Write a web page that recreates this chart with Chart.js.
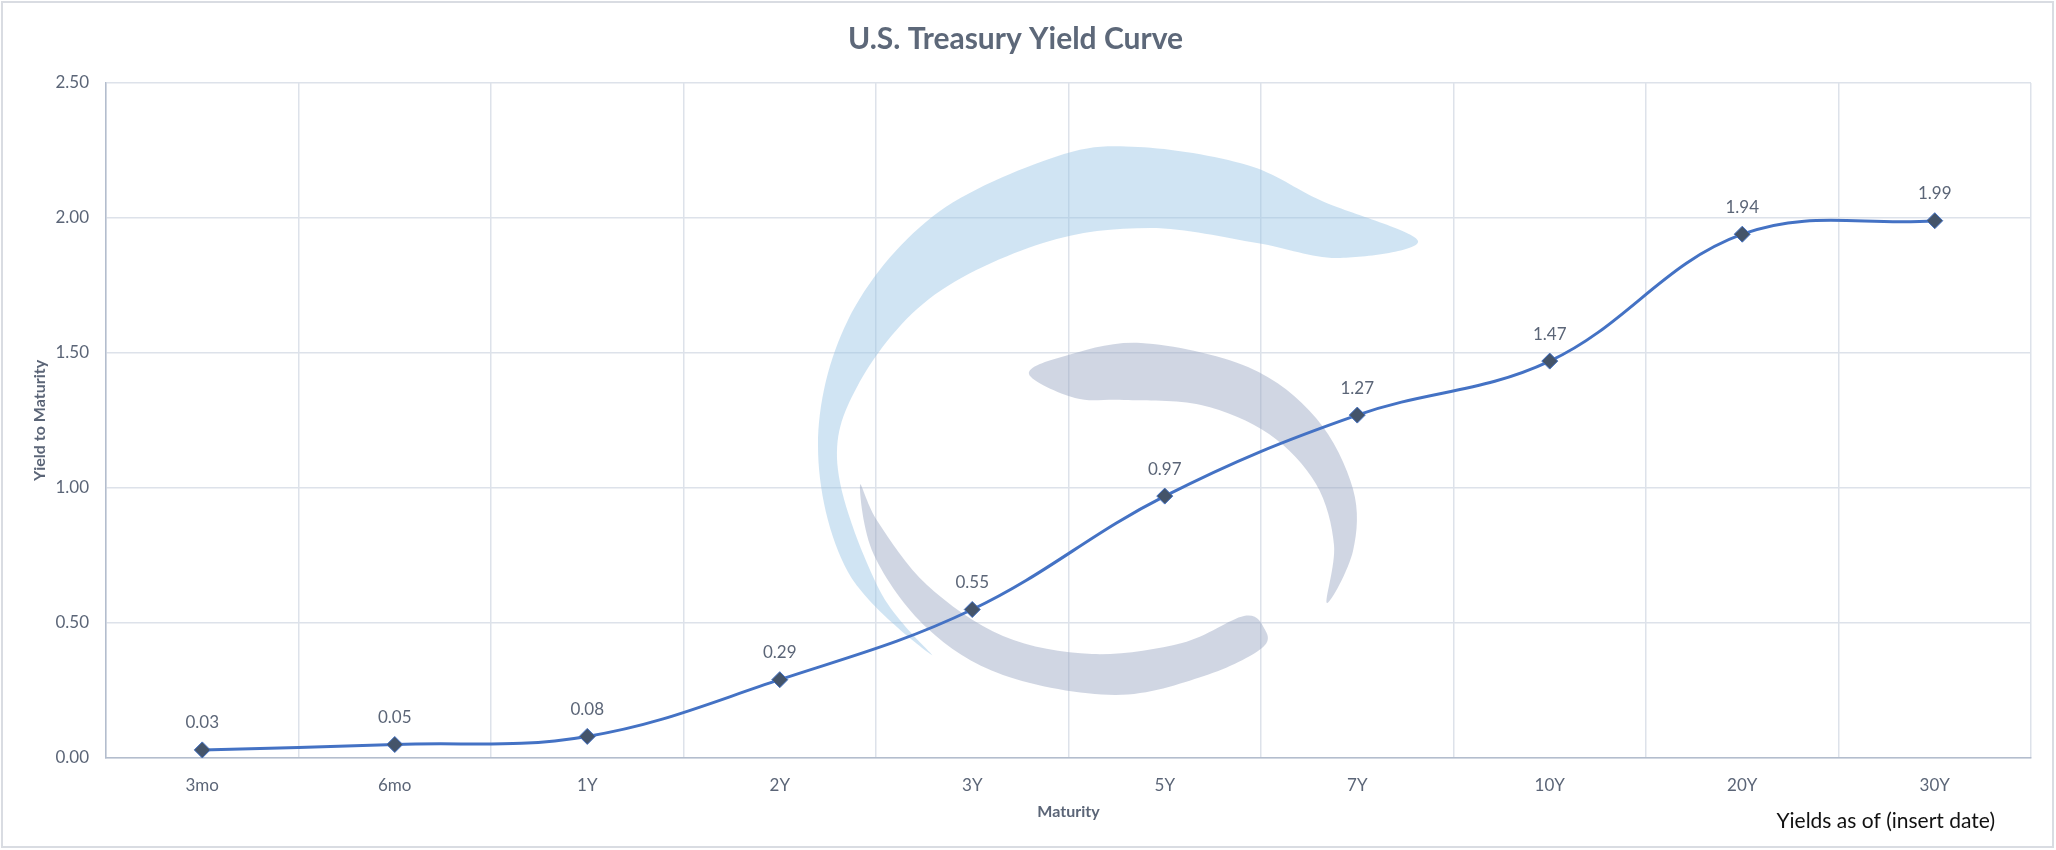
<!DOCTYPE html>
<html>
<head>
<meta charset="utf-8">
<title>U.S. Treasury Yield Curve</title>
<script src="https://cdn.jsdelivr.net/npm/chart.js@4.4.1/dist/chart.umd.min.js"></script>
<style>
    html, body { margin: 0; padding: 0; background: #fff; }
    #wrap { width: 2056px; height: 850px; position: relative; }
</style>
</head>
<body>
<div id="wrap"><canvas id="yieldChart"></canvas></div>
<script>
// Chart data
const maturities = ['3mo', '6mo', '1Y', '2Y', '3Y', '5Y', '7Y', '10Y', '20Y', '30Y'];
const yields = [0.03, 0.05, 0.08, 0.29, 0.55, 0.97, 1.27, 1.47, 1.94, 1.99];
const yTicks = [0, 0.5, 1.0, 1.5, 2.0, 2.5];

const chartTitle = 'U.S. Treasury Yield Curve';
const xTitle = 'Maturity';
const yTitle = 'Yield to Maturity';
const footNote = 'Yields as of (insert date)';

const textColor = '#5b6577';
const fontFamily = 'Lato, "Open Sans", sans-serif';

// White background and thin frame around the whole chart
const framePlugin = {
    id: 'frame',
    beforeDraw(chart) {
        const ctx = chart.ctx;
        ctx.save();
        ctx.fillStyle = '#ffffff';
        ctx.fillRect(0, 0, chart.width, chart.height);
        ctx.strokeStyle = '#d9dce2';
        ctx.lineWidth = 2;
        ctx.strokeRect(2, 2, chart.width - 5, chart.height - 5);
        ctx.restore();
    }
};

// Closed smooth outline through the given points (Catmull-Rom)
function smoothShape(ctx, pts) {
    const n = pts.length;
    ctx.beginPath();
    ctx.moveTo(pts[0][0], pts[0][1]);
    for (let i = 0; i < n; i++) {
        const p0 = pts[(i - 1 + n) % n], p1 = pts[i];
        const p2 = pts[(i + 1) % n], p3 = pts[(i + 2) % n];
        ctx.bezierCurveTo(
            p1[0] + (p2[0] - p0[0]) / 6, p1[1] + (p2[1] - p0[1]) / 6,
            p2[0] - (p3[0] - p1[0]) / 6, p2[1] - (p3[1] - p1[1]) / 6,
            p2[0], p2[1]);
    }
    ctx.closePath();
    ctx.fill();
}

// Faded logo watermark behind the line
const watermarkPlugin = {
    id: 'watermark',
    beforeDatasetsDraw(chart) {
        const ctx = chart.ctx;
        ctx.save();
        ctx.fillStyle = 'rgba(150, 195, 228, 0.45)';
        smoothShape(ctx, [[932, 655], [848, 572], [818, 446], [848, 320], [932, 217], [1055, 157],
            [1138, 147], [1247, 165], [1322, 201], [1418, 241], [1338, 258], [1257, 243],
            [1150, 228], [1043, 243], [929, 299], [857, 387], [838, 470], [880, 591]]);
        ctx.fillStyle = 'rgba(150, 164, 192, 0.45)';
        smoothShape(ctx, [[1029, 374], [1065, 356], [1141, 343], [1248, 367], [1316, 418],
            [1353, 489], [1353, 551], [1327, 603], [1334, 545], [1316, 484], [1269, 434],
            [1201, 405], [1124, 400], [1075, 398]]);
        smoothShape(ctx, [[860, 485], [874, 555], [927, 628], [1003, 675], [1115, 695],
            [1204, 676], [1262, 648], [1264, 628], [1244, 616], [1182, 643], [1092, 654],
            [1003, 636], [927, 585], [878, 522]]);
        ctx.restore();
    }
};

// Value labels above each point plus the footnote
const labelsPlugin = {
    id: 'valueLabels',
    afterDatasetsDraw(chart) {
        const ctx = chart.ctx;
        const meta = chart.getDatasetMeta(0);
        ctx.save();
        ctx.font = '17px ' + fontFamily;
        ctx.fillStyle = textColor;
        ctx.textAlign = 'center';
        ctx.textBaseline = 'middle';
        meta.data.forEach((pt, i) => {
            ctx.fillText(yields[i].toFixed(2), pt.x, pt.y - 27);
        });
        ctx.font = '21px ' + fontFamily;
        ctx.fillStyle = '#111111';
        ctx.textAlign = 'right';
        ctx.fillText(footNote, chart.chartArea.right - 36, 821);
        ctx.restore();
    }
};

const ctx = document.getElementById('yieldChart');
const yieldChart = new Chart(ctx, {
    type: 'line',
    data: {
        labels: maturities,
        datasets: [{
            label: 'Yield',
            data: yields,
            borderColor: '#4472c4',
            borderWidth: 3,
            tension: 0.38,
            pointStyle: 'rectRot',
            pointRadius: 8,
            pointBackgroundColor: '#44546a',
            pointBorderColor: '#4472c4',
            pointBorderWidth: 1
        }]
    },
    options: {
        responsive: true,
        maintainAspectRatio: false,
        devicePixelRatio: 1,
        animation: false,
        layout: { padding: { left: 0, right: 25, top: 0, bottom: 0 } },
        plugins: {
            legend: { display: false },
            tooltip: { enabled: false },
            title: {
                display: true,
                text: chartTitle,
                color: '#5d6879',
                font: { family: fontFamily, size: 30, weight: 'bold' },
                padding: { top: 21, bottom: 26 }
            }
        },
        scales: {
            x: {
                offset: true,
                grid: { offset: true, color: '#dde2ea', lineWidth: 1.5, drawTicks: false },
                border: { color: '#b3bdcd', width: 1.5 },
                ticks: { color: textColor, font: { family: fontFamily, size: 17 }, padding: 17 },
                title: {
                    display: true,
                    text: xTitle,
                    color: textColor,
                    font: { family: fontFamily, size: 16, weight: 'bold' },
                    padding: { top: 0, bottom: 29 }
                },
                afterFit(scale) { scale.height = 92; }
            },
            y: {
                min: 0,
                max: 2.5,
                grid: { color: '#dde2ea', lineWidth: 1.5, drawTicks: false },
                border: { color: '#b3bdcd', width: 1.5 },
                afterBuildTicks(scale) { scale.ticks = yTicks.map(v => ({ value: v })); },
                ticks: {
                    color: textColor,
                    font: { family: fontFamily, size: 17 },
                    padding: 17,
                    callback: v => v.toFixed(2)
                },
                title: {
                    display: true,
                    text: yTitle,
                    color: textColor,
                    font: { family: fontFamily, size: 16, weight: 'bold' },
                    padding: { top: 30, bottom: 0 }
                },
                afterFit(scale) { scale.width = 106; }
            }
        }
    },
    plugins: [framePlugin, watermarkPlugin, labelsPlugin]
});
</script>
</body>
</html>
